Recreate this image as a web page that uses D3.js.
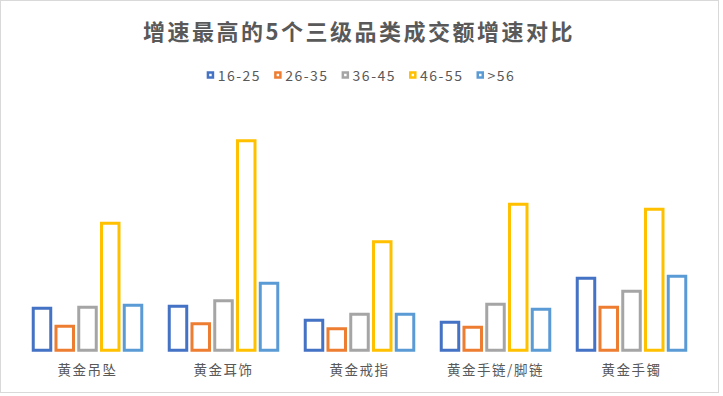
<!DOCTYPE html>
<html>
<head>
<meta charset="utf-8">
<script src="https://cdn.jsdelivr.net/npm/d3@7"></script>
<style>
  html, body { margin: 0; padding: 0; background: #fff; }
  svg { display: block; }
  text { font-family: "Noto Sans CJK SC", "Noto Sans", sans-serif; }
</style>
</head>
<body>
<svg id="chart" width="723" height="396"></svg>
<script>
// ---- data ----
const title = "增速最高的5个三级品类成交额增速对比";
const categories = ["黄金吊坠", "黄金耳饰", "黄金戒指", "黄金手链/脚链", "黄金手镯"];
const seriesNames = ["16-25", "26-35", "36-45", "46-55", ">56"];
const s1625 = [84, 88, 60, 56, 144];
const s2635 = [48, 53, 43, 46, 86];
const s3645 = [86, 99, 72, 92, 118];
const s4655 = [254, 419, 217, 292, 282];
const s56   = [90, 134, 72, 82, 148];
const seriesValues = [s1625, s2635, s3645, s4655, s56];
const colors = ["#4472C4", "#ED7D31", "#A5A5A5", "#FFC000", "#5B9BD5"];

// ---- layout ----
const svg = d3.select("#chart");
const W = 723, H = 396;

svg.append("rect")
  .attr("x", 0.5).attr("y", 0.5).attr("width", 718).attr("height", 392)
  .attr("fill", "#fff").attr("stroke", "#D9D9D9").attr("stroke-width", 1);

svg.append("text")
  .attr("x", 359).attr("y", 40)
  .attr("text-anchor", "middle")
  .attr("fill", "#595959")
  .attr("font-size", 22).attr("font-weight", 700)
  .attr("letter-spacing", "2.5px")
  .text(title);

const x0 = d3.scaleBand().domain(categories).range([19.5, 699.5]).padding(0);
const x1 = d3.scaleBand().domain(d3.range(seriesNames.length))
  .range([0, x0.bandwidth()]).paddingInner(0.2308).paddingOuter(0.604);
const y = d3.scaleLinear().domain([0, 500]).range([350.25, 100.25]);

const groups = svg.append("g").selectAll("g")
  .data(categories).join("g")
  .attr("transform", d => `translate(${x0(d)},0)`);

groups.selectAll("rect")
  .data((c, ci) => seriesValues.map((vals, si) => ({ si, v: vals[ci] })))
  .join("rect")
  .attr("x", d => x1(d.si))
  .attr("y", d => y(d.v))
  .attr("width", x1.bandwidth())
  .attr("height", d => y(0) - y(d.v))
  .attr("fill", "#fff")
  .attr("stroke", d => colors[d.si])
  .attr("stroke-width", 3);

// category axis labels
const xAxis = d3.axisBottom(x0).tickSize(0).tickPadding(0);
const ax = svg.append("g").attr("transform", "translate(0,362)").call(xAxis);
ax.select(".domain").remove();
ax.selectAll("text")
  .attr("fill", "#595959")
  .attr("font-size", 13.5)
  .attr("letter-spacing", "1.5px")
  .attr("font-family", "\"Noto Sans CJK SC\", sans-serif")
  .attr("dy", "0.95em");

// legend
const legend = svg.append("g");
const items = legend.selectAll("g").data(seriesNames).join("g");
items.append("rect")
  .attr("width", 5).attr("height", 5)
  .attr("x", 1.25).attr("y", 72.5)
  .attr("fill", "#fff")
  .attr("stroke", (d, i) => colors[i]).attr("stroke-width", 2.5);
items.append("text")
  .attr("x", 11).attr("y", 80.5)
  .attr("fill", "#595959")
  .attr("font-size", 14)
  .attr("letter-spacing", "1.5px")
  .text(d => d);
let cx = 0;
const offsets = [];
items.each(function() {
  const tw = d3.select(this).select("text").node().getComputedTextLength();
  offsets.push(cx);
  cx += 11 + tw + 13;
});
const totalW = cx - 13;
const startX = 361 - totalW / 2;
items.attr("transform", (d, i) => `translate(${startX + offsets[i]},0)`);
</script>
</body>
</html>
